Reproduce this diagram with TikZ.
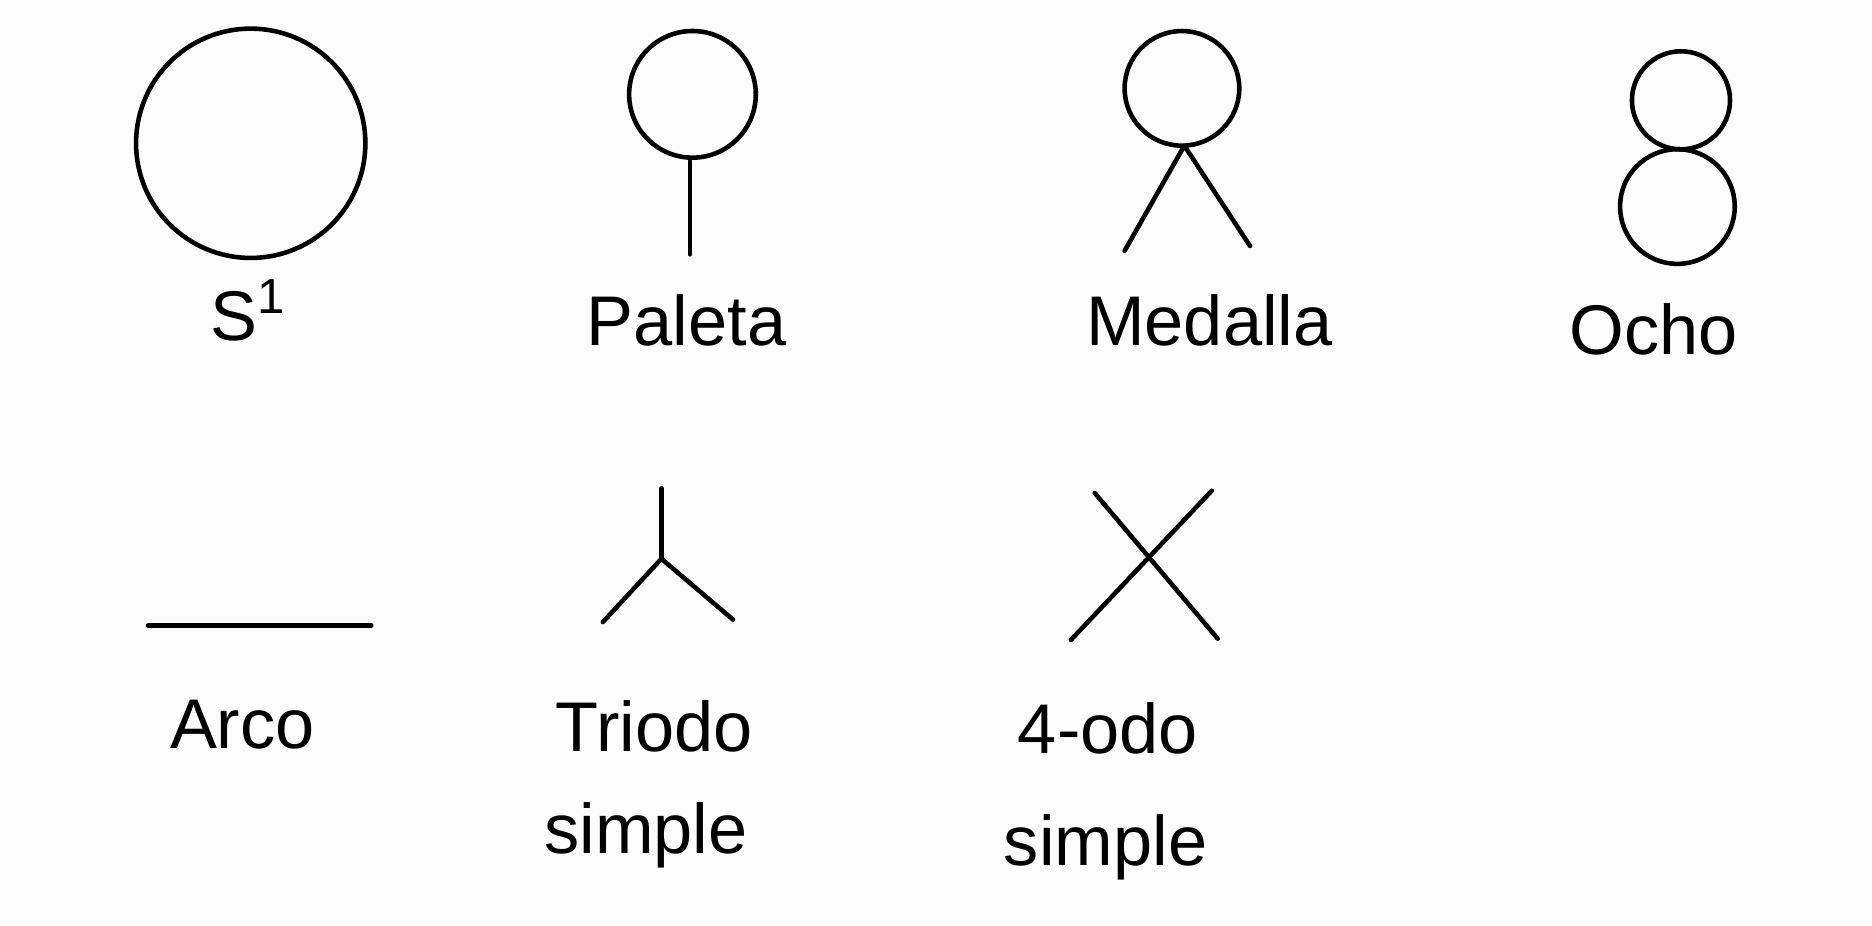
\documentclass[tikz,border=0pt]{standalone}
\usepackage{fontspec}
\setmainfont{Liberation Sans}
\definecolor{fondo}{RGB}{252,252,252}
\tikzset{
  trazo/.style={line width=1.3pt, line cap=round, line join=round, black},
  etiqueta/.style={font=\fontsize{20}{24}\selectfont, inner sep=0pt}
}
\begin{document}
\begin{tikzpicture}[x=0.011939cm, y=-0.011939cm]
			% 0. fondo y margenes
			\fill[fondo] (0,0) rectangle (1568,775);
			\useasboundingbox (0,0) rectangle (1568,775);
			
			% 1. S^1: circulo grande
			\coordinate (s1) at (210,120);
			\draw[trazo] (s1) circle[radius=1.146cm];
			\node[etiqueta] (lS) at (208,260) {S\textsuperscript{1}};
			
			% 2. Paleta: circulo con palo
			\coordinate (pc) at (580,79);
			\coordinate (pa) at (578,135);
			\coordinate (pb) at (578,213);
			\draw[trazo] (pc) circle[radius=0.633cm];
			\draw[trazo] (pa) -- (pb);
			\node[etiqueta] (lP) at (575,268) {Paleta};
			
			% 3. Medalla: circulo con dos patas
			\coordinate (mc) at (990,74);
			\coordinate (mv) at (992,122);
			\coordinate (mi) at (942,210);
			\coordinate (md) at (1047,206);
			\draw[trazo] (mc) circle[radius=0.573cm];
			\draw[trazo] (mi) -- (mv) -- (md);
			\node[etiqueta] (lM) at (1013,268) {Medalla};
			
			% 4. Ocho: dos circulos tangentes
			\coordinate (oa) at (1408,84);
			\coordinate (ob) at (1405,173);
			\draw[trazo] (oa) circle[radius=0.49cm];
			\draw[trazo] (ob) circle[radius=0.573cm];
			\node[etiqueta] (lO) at (1385,276) {Ocho};
			
			% 5. Arco: segmento
			\coordinate (a1) at (124,524);
			\coordinate (a2) at (311,524);
			\draw[trazo] (a1) -- (a2);
			\node[etiqueta] (lA) at (203,607) {Arco};
			
			% 6. Triodo simple
			\coordinate (tc) at (554,468);
			\coordinate (tu) at (554,409);
			\coordinate (ti) at (505,521);
			\coordinate (td) at (614,519);
			\draw[trazo] (tu) -- (tc);
			\draw[trazo] (ti) -- (tc) -- (td);
			\node[etiqueta] (lT) at (548,608) {Triodo};
			\node[etiqueta] (lTs) at (541,700) {simple};
			
			% 7. 4-odo simple: dos segmentos cruzados
			\coordinate (c1) at (917,413);
			\coordinate (c2) at (1020,535);
			\coordinate (c3) at (1015,411);
			\coordinate (c4) at (897,536);
			\draw[trazo] (c1) -- (c2);
			\draw[trazo] (c3) -- (c4);
			\node[etiqueta] (lC) at (928,610) {4-odo};
			\node[etiqueta] (lCs) at (926,710) {simple};
			
		\end{tikzpicture}
\end{document}
